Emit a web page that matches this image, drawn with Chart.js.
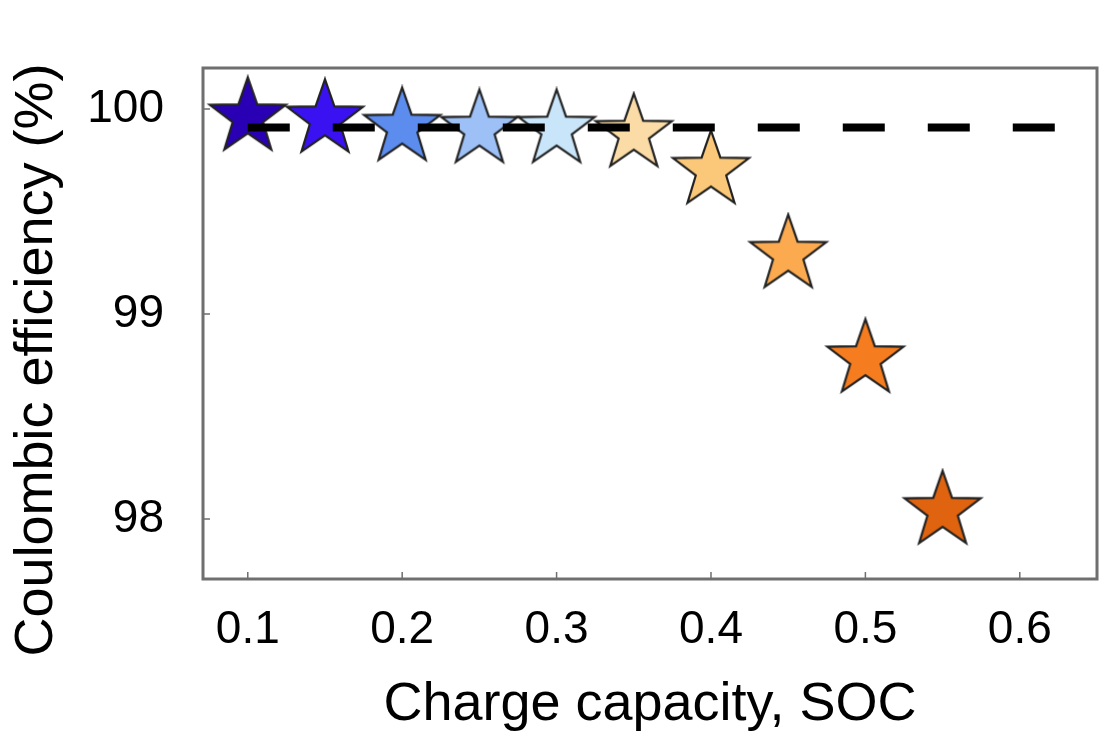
<!DOCTYPE html>
<html>
<head>
<meta charset="utf-8">
<title>Coulombic efficiency vs SOC</title>
<script src="https://cdn.jsdelivr.net/npm/chart.js@4"></script>
<style>
  body { margin: 0; background: #fff; }
  canvas { display: block; }
</style>
</head>
<body>
<canvas id="ceChart" width="1100" height="733"></canvas>
<script>
const socValues = [0.1, 0.15, 0.2, 0.25, 0.3, 0.35, 0.4, 0.45, 0.5, 0.55];
const ceValues = [99.96, 99.95, 99.91, 99.90, 99.90, 99.88, 99.70, 99.29, 98.78, 98.04];
const starColors = ['#2a00b4', '#3a12f2', '#5b8cee', '#9dc0f6', '#c8e5f9', '#fcdca6', '#fbc778', '#fbaa50', '#f67d1f', '#e0640f'];
const refLineX = [0.1, 0.65];
const refLineY = 99.91;
const xTicks = [0.1, 0.2, 0.3, 0.4, 0.5, 0.6];
const yTicks = [98, 99, 100];

const FONT = "'Liberation Sans', Arial, sans-serif";
const AXIS_COLOR = '#6f6f6f';

// five point star drawn on a small canvas, used as pointStyle
function makeStar(color, r) {
    const pad = 3;
    const c = document.createElement('canvas');
    c.width = c.height = Math.ceil(2 * r + 2 * pad);
    const ctx = c.getContext('2d');
    const cx = c.width / 2, cy = c.height / 2;
    const inner = r * 0.4;
    ctx.beginPath();
    for (let i = 0; i < 10; i++) {
        const rad = i % 2 === 0 ? r : inner;
        const a = -Math.PI / 2 + i * Math.PI / 5;
        const px = cx + rad * Math.cos(a), py = cy + rad * Math.sin(a);
        if (i === 0) ctx.moveTo(px, py); else ctx.lineTo(px, py);
    }
    ctx.closePath();
    ctx.fillStyle = color;
    ctx.fill();
    ctx.lineWidth = 2.2;
    ctx.lineJoin = 'miter';
    ctx.strokeStyle = '#222';
    ctx.stroke();
    return c;
}

const starImages = starColors.map(col => makeStar(col, 40));

// frame, inward tick marks and the two axis titles
const framePlugin = {
    id: 'frame',
    beforeDatasetsDraw(chart) {
        const { ctx, chartArea: a, scales } = chart;
        ctx.save();
        ctx.strokeStyle = AXIS_COLOR;
        ctx.lineWidth = 1.5;
        ctx.beginPath();
        xTicks.forEach(v => {
            const px = scales.x.getPixelForValue(v);
            ctx.moveTo(px, a.bottom);
            ctx.lineTo(px, a.bottom - 7);
        });
        yTicks.forEach(v => {
            const py = scales.y.getPixelForValue(v);
            ctx.moveTo(a.left, py);
            ctx.lineTo(a.left + 7, py);
        });
        ctx.stroke();
        ctx.lineWidth = 3;
        ctx.strokeRect(a.left, a.top, a.right - a.left, a.bottom - a.top);
        ctx.restore();
    },
    afterDraw(chart) {
        const { ctx, chartArea: a } = chart;
        ctx.save();
        ctx.fillStyle = '#000';
        ctx.textAlign = 'center';
        ctx.textBaseline = 'middle';
        ctx.font = '54px ' + FONT;
        ctx.fillText('Charge capacity, SOC', (a.left + a.right) / 2, a.bottom + 126);
        ctx.translate(37, a.top + 292);
        ctx.rotate(-Math.PI / 2);
        ctx.fillText('Coulombic efficiency (%)', 0, 0);
        ctx.restore();
    }
};

const ctx = document.getElementById('ceChart').getContext('2d');
const myChart = new Chart(ctx, {
    type: 'scatter',
    data: {
        datasets: [
            {
                type: 'line',
                data: refLineX.map(x => ({ x: x, y: refLineY })),
                borderColor: '#000',
                borderWidth: 8,
                borderDash: [42, 43],
                pointRadius: 0,
                fill: false
            },
            {
                data: socValues.map((x, i) => ({ x: x, y: ceValues[i] })),
                pointStyle: starImages,
                pointRadius: 40,
                backgroundColor: starColors,
                borderColor: '#222'
            }
        ]
    },
    options: {
        responsive: false,
        animation: false,
        layout: { autoPadding: false, padding: { left: 0, top: 68, right: 3, bottom: 0 } },
        plugins: { legend: { display: false }, tooltip: { enabled: false } },
        scales: {
            x: {
                type: 'linear',
                min: 0.071,
                max: 0.65,
                afterBuildTicks: s => { s.ticks = xTicks.map(v => ({ value: v })); },
                afterFit: s => { s.height = 154; s.paddingLeft = 0; s.paddingRight = 0; },
                grid: { display: false },
                border: { display: false },
                ticks: {
                    color: '#000',
                    font: { family: FONT, size: 46 },
                    padding: 16,
                    maxRotation: 0,
                    callback: v => v.toFixed(1)
                }
            },
            y: {
                min: 97.707,
                max: 100.2,
                afterBuildTicks: s => { s.ticks = yTicks.map(v => ({ value: v })); },
                afterFit: s => { s.width = 203; s.paddingTop = 0; s.paddingBottom = 0; },
                grid: { display: false },
                border: { display: false },
                ticks: {
                    color: '#000',
                    font: { family: FONT, size: 46 },
                    padding: 31,
                    callback: v => String(v)
                }
            }
        }
    },
    plugins: [framePlugin]
});
</script>
</body>
</html>
